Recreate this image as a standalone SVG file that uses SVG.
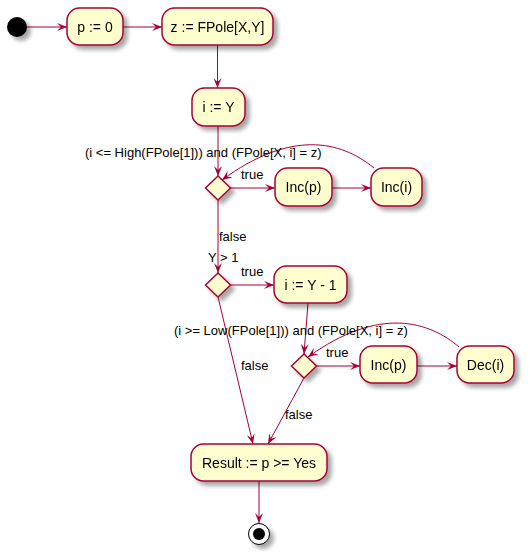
<svg xmlns="http://www.w3.org/2000/svg" width="532" height="554" viewBox="0 0 532 554">
<defs>
<filter id="sh" x="-20%" y="-20%" width="160%" height="160%">
<feGaussianBlur in="SourceAlpha" stdDeviation="2"/>
<feOffset dx="4" dy="4" result="b"/>
<feComponentTransfer><feFuncA type="linear" slope="0.35"/></feComponentTransfer>
<feMerge><feMergeNode/><feMergeNode in="SourceGraphic"/></feMerge>
</filter>
<marker id="ah" viewBox="0 0 10 8" refX="10" refY="4" markerWidth="10" markerHeight="8" markerUnits="userSpaceOnUse" orient="auto">
<path d="M0,0 L10,4 L0,8 L4,4 Z" fill="#A80036"/>
</marker>
</defs>
<style>
.act{fill:#FEFECE;stroke:#A80036;stroke-width:1.5}
.t{font-family:"Liberation Sans",Arial,sans-serif;font-size:14px;fill:#000;text-anchor:middle}
.l{font-family:"Liberation Sans",Arial,sans-serif;font-size:13px;fill:#000}
.c{fill:none;stroke:#A80036;stroke-width:1}
.ca{fill:none;stroke:#A80036;stroke-width:1;marker-end:url(#ah)}
</style>
<rect width="532" height="554" fill="#FFFFFF"/>

<g id="connectors">
<line class="ca" x1="27" y1="27" x2="67" y2="27"/>
<line class="ca" x1="123" y1="27" x2="162" y2="27"/>
<line class="ca" x1="217.5" y1="45" x2="217.5" y2="88"/>
<line class="ca" x1="218" y1="126" x2="218" y2="176"/>
<line class="ca" x1="230.5" y1="188" x2="275" y2="188"/>
<line class="ca" x1="332" y1="188" x2="371" y2="188"/>
<path class="ca" d="M374,168 C340,140 290,130 222,180"/>
<line class="ca" x1="218" y1="200" x2="218" y2="273"/>
<line class="ca" x1="230.5" y1="285" x2="274" y2="285"/>
<line class="ca" x1="308" y1="303" x2="304" y2="354"/>
<line class="ca" x1="316.5" y1="366" x2="360" y2="366"/>
<line class="ca" x1="417" y1="366" x2="457" y2="366"/>
<path class="ca" d="M459,347 C430,322 380,305 308,357"/>
<line class="ca" x1="218" y1="297" x2="253" y2="444"/>
<line class="ca" x1="304" y1="378" x2="268" y2="444"/>
<line class="ca" x1="259" y1="481" x2="259" y2="523"/>
</g>

<g id="labels">
<text class="l" x="85" y="157">(i &lt;= High(FPole[1])) and (FPole[X, i] = z)</text>
<text class="l" x="241" y="179">true</text>
<text class="l" x="219" y="241">false</text>
<text class="l" x="208" y="262">Y &gt; 1</text>
<text class="l" x="241" y="276">true</text>
<text class="l" x="174" y="335">(i &gt;= Low(FPole[1])) and (FPole[X, i] = z)</text>
<text class="l" x="326" y="357">true</text>
<text class="l" x="241" y="370">false</text>
<text class="l" x="285" y="419">false</text>
</g>

<g id="start"><circle cx="17" cy="27" r="10" fill="#000" filter="url(#sh)"/></g>

<g id="p0" filter="url(#sh)"><rect class="act" x="67" y="8" width="56" height="37" rx="12.5"/><text class="t" x="95" y="32">p := 0</text></g>
<g id="zpole" filter="url(#sh)"><rect class="act" x="162" y="8" width="111" height="37" rx="12.5"/><text class="t" x="217.5" y="32">z := FPole[X,Y]</text></g>
<g id="iY" filter="url(#sh)"><rect class="act" x="192" y="88" width="53" height="38" rx="12.5"/><text class="t" x="218.5" y="112">i := Y</text></g>

<g id="d1" filter="url(#sh)"><polygon class="act" points="218,176 230.5,188 218,200 205.5,188"/></g>
<g id="incp1" filter="url(#sh)"><rect class="act" x="275" y="168" width="57" height="38" rx="12.5"/><text class="t" x="303.5" y="192">Inc(p)</text></g>
<g id="inci" filter="url(#sh)"><rect class="act" x="371" y="168" width="51" height="38" rx="12.5"/><text class="t" x="396.5" y="192">Inc(i)</text></g>

<g id="d2" filter="url(#sh)"><polygon class="act" points="218,273 230.5,285 218,297 205.5,285"/></g>
<g id="iY1" filter="url(#sh)"><rect class="act" x="274" y="266" width="73" height="37" rx="12.5"/><text class="t" x="310.5" y="290">i := Y - 1</text></g>

<g id="d3" filter="url(#sh)"><polygon class="act" points="304,354 316.5,366 304,378 291.5,366"/></g>
<g id="incp2" filter="url(#sh)"><rect class="act" x="360" y="346" width="57" height="37" rx="12.5"/><text class="t" x="388.5" y="370">Inc(p)</text></g>
<g id="deci" filter="url(#sh)"><rect class="act" x="457" y="346" width="57" height="37" rx="12.5"/><text class="t" x="485.5" y="370">Dec(i)</text></g>

<g id="result" filter="url(#sh)"><rect class="act" x="191" y="444" width="136" height="37" rx="12.5"/><text class="t" x="259" y="468">Result := p &gt;= Yes</text></g>

<g id="end" filter="url(#sh)"><circle cx="259" cy="534" r="10.5" fill="#FFFFFF" stroke="#000" stroke-width="1"/><circle cx="259" cy="534" r="6" fill="#000"/></g>
</svg>
